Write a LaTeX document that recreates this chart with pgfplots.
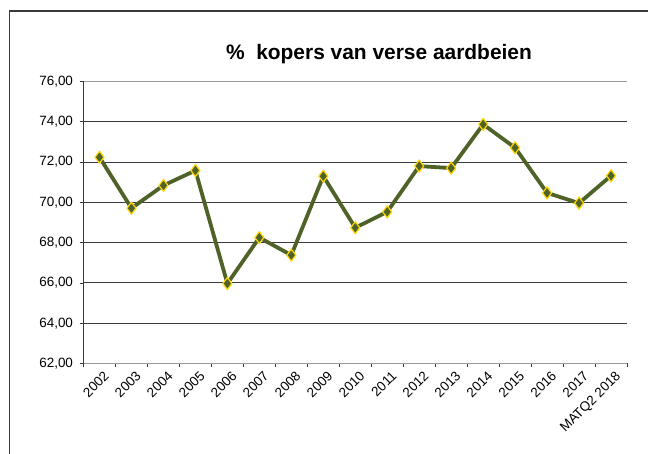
\documentclass[border=0pt]{standalone}
\usepackage{pgfplots}
\pgfplotsset{compat=1.18}
\usepackage{fontspec}
\setmainfont{Liberation Sans}
\definecolor{olive}{HTML}{4F6228}
\definecolor{gold}{HTML}{FFD800}
\definecolor{gridc}{HTML}{3A3A3A}
\definecolor{lgray}{HTML}{9A9A9A}
\begin{document}
\begin{tikzpicture}[x=1bp,y=1bp]
\useasboundingbox (0,0) rectangle (648,454);
\draw[color=gridc, line width=1.3bp] (9.5,0) -- (9.5,443) -- (648,443);
\node[font=\fontsize{21}{24}\selectfont\bfseries] at (379,400) {\%\ \ kopers van verse aardbeien};
\begin{axis}[
  at={(83.5bp,90.5bp)}, anchor=south west,
  scale only axis, width=543.5bp, height=282bp,
  xmin=-0.5, xmax=16.5, ymin=62, ymax=76,
  ytick={62,64,...,76},
  xtick={0,...,16},
  xticklabels={2002,2003,2004,2005,2006,2007,2008,2009,2010,2011,2012,2013,2014,2015,2016,2017,MATQ2 2018},
  minor xtick={-0.5,0.5,...,16.5},
  xmajorgrids=false, xminorgrids=false,
  major x tick style={draw=none},
  minor x tick style={draw=gridc, line width=0.9bp},
  minor tick length=4bp,
  y tick style={draw=gridc, line width=0.8bp},
  major tick length=4bp,
  tick align=outside,
  xtick pos=bottom, ytick pos=left,
  ymajorgrids, major grid style={draw=gridc, line width=0.9bp},
  axis line style={draw=none},
  /pgf/number format/.cd, fixed, fixed zerofill, precision=2, use comma, assume math mode=true,
  /pgfplots/.cd,
  yticklabel style={font=\fontsize{13.5}{15}\selectfont, xshift=-3bp},
  xticklabel style={font=\fontsize{13.5}{15}\selectfont, rotate=45, anchor=north east, xshift=4bp, yshift=-1bp},
  clip=false,
]
\draw[lgray, line width=1.6bp] (axis cs:-0.5,76) -- (axis cs:16.5,76);
\draw[lgray, line width=1.6bp] (axis cs:-0.5,62) -- (axis cs:16.5,62);
\draw[gridc, line width=1bp] (axis cs:-0.5,62) -- (axis cs:-0.5,76);
\addplot[color=olive, line width=3.8bp, mark=diamond*, mark size=6bp,
  mark options={fill=olive, draw=gold, line width=1.2bp}] coordinates {
(0,72.24) (1,69.71) (2,70.84) (3,71.58) (4,65.97) (5,68.25) (6,67.38) (7,71.30)
(8,68.74) (9,69.53) (10,71.80) (11,71.70) (12,73.87) (13,72.71) (14,70.47) (15,69.96) (16,71.32)
};
\end{axis}
\end{tikzpicture}
\end{document}
